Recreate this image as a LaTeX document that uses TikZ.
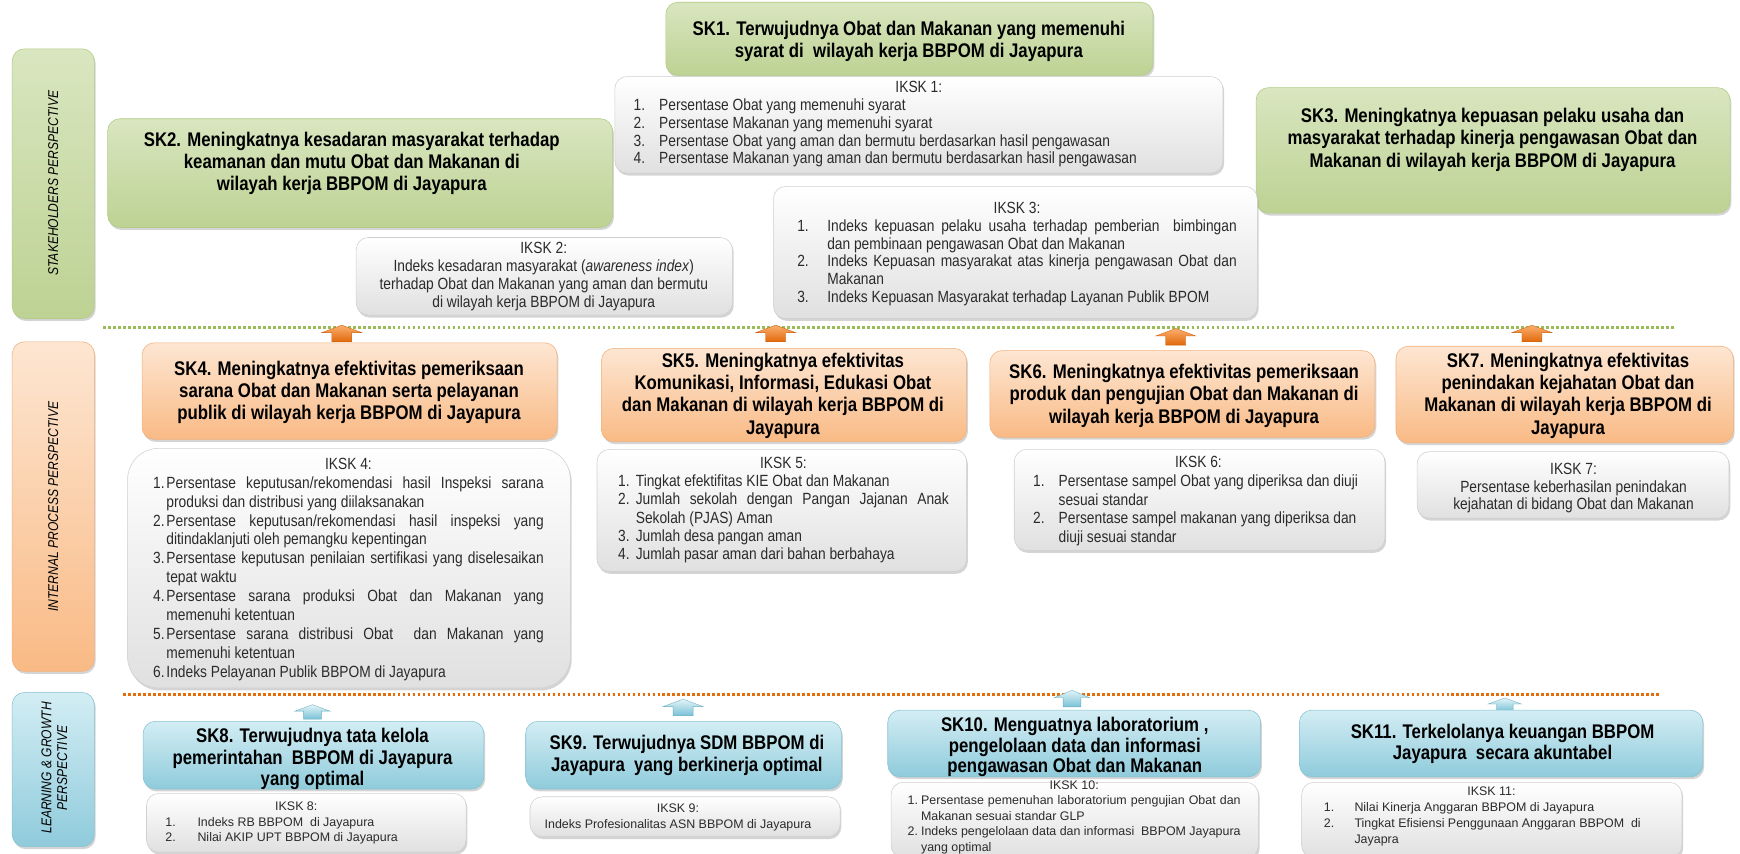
\documentclass[tikz,border=0pt]{standalone}
\usepackage{fontspec}
\setmainfont{Liberation Sans}
\newfontfamily\nar[FakeStretch=0.85]{Liberation Sans}
\usetikzlibrary{shadows}
\definecolor{grA}{HTML}{D9E6C0}
\definecolor{grB}{HTML}{BDD293}
\definecolor{grL}{HTML}{B3CB86}
\definecolor{orA}{HTML}{FDE6D2}
\definecolor{orB}{HTML}{F9BA85}
\definecolor{orL}{HTML}{F2B07C}
\definecolor{blA}{HTML}{D3EDF4}
\definecolor{blB}{HTML}{8FCBDB}
\definecolor{blL}{HTML}{86C2D3}
\definecolor{ikB}{HTML}{E0E0E0}
\definecolor{ikL}{HTML}{D0D0D0}
\definecolor{txt}{HTML}{2B2B2B}
\definecolor{dotG}{HTML}{9BBB59}
\definecolor{dotO}{HTML}{E46C0A}
\definecolor{arOa}{HTML}{FBAF6E}
\definecolor{arOb}{HTML}{E0680A}
\definecolor{arBa}{HTML}{E3F4F8}
\definecolor{arBb}{HTML}{78C1D6}
\newcommand\LI[4]{\makebox[#1][l]{\makebox[#2][l]{#3}#4}}
\newcommand\LJ[4]{\makebox[#1][l]{\makebox[#2][l]{#3}\makebox[\dimexpr#1-#2\relax][s]{#4}}}
\newcommand\UpArr[5]{\path[#5] ({#1-#3},{#2+0.45*#4}) -- (#1,#2) -- ({#1+#3},{#2+0.45*#4}) -- ({#1+0.5*#3},{#2+0.45*#4}) -- ({#1+0.5*#3},{#2+#4}) -- ({#1-0.5*#3},{#2+#4}) -- ({#1-0.5*#3},{#2+0.45*#4}) -- cycle;}
\tikzset{
  shad/.style={drop shadow={shadow xshift=1.2pt, shadow yshift=-2.2pt, opacity=0.3, fill=black!55}},
  bx/.style={rounded corners=11pt, inner sep=0pt, shad, line width=0.5pt},
  gbox/.style={bx, top color=grA, bottom color=grB, draw=grL},
  obox/.style={bx, top color=orA, bottom color=orB, draw=orL},
  bbox/.style={bx, top color=blA, bottom color=blB, draw=blL},
  ibox/.style={bx, top color=white, bottom color=ikB, draw=ikL},
  ttl/.style={font=\nar\fontsize{17.8}{#1}\selectfont\bfseries, align=center, inner sep=0pt, text=black},
  ttl/.default=20,
  body/.style={font=\nar\fontsize{14.6}{#1}\selectfont, align=center, inner sep=0pt, text=txt},
  body/.default=16,
  sml/.style={font=\fontsize{11.2}{#1}\selectfont, align=center, inner sep=0pt, text=txt},
  sml/.default=14.5,
  side/.style={font=\nar\fontsize{12.8}{14}\selectfont\itshape, rotate=90, align=center, inner sep=0pt, text=black},
  dotg/.style={draw=dotG, line width=2.4pt, dash pattern=on 2.4pt off 2.1pt},
  doto/.style={draw=dotO, line width=2.4pt, dash pattern=on 2.4pt off 2.1pt},
  arO/.style={top color=arOa, bottom color=arOb, draw=arOb!90!black, line width=0.3pt},
  arB/.style={top color=arBa, bottom color=arBb, draw=arBb!90!black, line width=0.3pt},
}
\begin{document}
\begin{tikzpicture}[x=1pt,y=-1pt]
\useasboundingbox (0,0) rectangle (1568,769);
\clip (0,0) rectangle (1568,769);
\fill[white] (0,0) rectangle (1568,769);

% ---------- perspective labels ----------
\node[gbox, minimum width=74pt, minimum height=243pt] (spbox) at (48,165.5) {};
\node[side] (sptxt) at (48,165) {STAKEHOLDERS PERSPECTIVE};
\node[obox, minimum width=74pt, minimum height=297pt] (ipbox) at (48,456.5) {};
\node[side] (iptxt) at (48,456.5) {INTERNAL PROCESS PERSPECTIVE};
\node[bbox, minimum width=74pt, minimum height=139pt] (lgbox) at (48,693.5) {};
\node[side] (lgtxt) at (49,692) {LEARNING \& GROWTH\\PERSPECTIVE};

% ---------- stakeholders row ----------
\node[gbox, minimum width=455pt, minimum height=98pt] (sk2) at (324.5,156) {};
\node[ttl] (sk2t) at (317,147.5) {SK2. Meningkatnya kesadaran masyarakat terhadap\\keamanan dan mutu Obat dan Makanan di\\wilayah kerja BBPOM di Jayapura};

\node[gbox, minimum width=439pt, minimum height=66pt] (sk1) at (819.5,35) {};
\node[ttl] (sk1t) at (819,37.5) {SK1. Terwujudnya Obat dan Makanan yang memenuhi\\syarat di\ \ wilayah kerja BBPOM di Jayapura};

\node[ibox, minimum width=548pt, minimum height=87pt] (ik1) at (828,112.5) {};
\node[body] (ik1t) at (828,112) {IKSK 1:\\
\LI{514pt}{23pt}{1.}{Persentase Obat yang memenuhi syarat}\\
\LI{514pt}{23pt}{2.}{Persentase Makanan yang memenuhi syarat}\\
\LI{514pt}{23pt}{3.}{Persentase Obat yang aman dan bermutu berdasarkan hasil pengawasan}\\
\LI{514pt}{23pt}{4.}{Persentase Makanan yang aman dan bermutu berdasarkan hasil pengawasan}};

\node[gbox, minimum width=427pt, minimum height=113pt] (sk3) at (1345.5,135.5) {};
\node[ttl] (sk3t) at (1345,126) {SK3. Meningkatnya kepuasan pelaku usaha dan\\masyarakat terhadap kinerja pengawasan Obat dan\\Makanan di wilayah kerja BBPOM di Jayapura};

\node[ibox, minimum width=339pt, minimum height=70pt] (ik2) at (490.5,249) {};
\node[body=16.3] (ik2t) at (490,249) {IKSK 2:\\Indeks kesadaran masyarakat (\textit{awareness index})\\terhadap Obat dan Makanan yang aman dan bermutu\\di wilayah kerja BBPOM di Jayapura};

\node[ibox, minimum width=436pt, minimum height=119pt] (ik3) at (915,227.5) {};
\node[body] (ik3t) at (916.5,229) {IKSK 3:\\
\LJ{396pt}{27pt}{1.}{Indeks kepuasan pelaku usaha terhadap pemberian \ bimbingan}\\
\LI{396pt}{27pt}{}{dan pembinaan pengawasan Obat dan Makanan}\\
\LJ{396pt}{27pt}{2.}{Indeks Kepuasan masyarakat atas kinerja pengawasan Obat dan}\\
\LI{396pt}{27pt}{}{Makanan}\\
\LI{396pt}{27pt}{3.}{Indeks Kepuasan Masyarakat terhadap Layanan Publik BPOM}};

\draw[dotg] (93,295) -- (1509,295);
\UpArr{308}{293}{18}{15}{arO}
\UpArr{699}{293}{18}{15}{arO}
\UpArr{1059.5}{296}{18}{15}{arO}
\UpArr{1380.5}{293}{18}{15}{arO}

% ---------- internal process row ----------
\node[obox, minimum width=374pt, minimum height=87pt] (sk4) at (315,352.5) {};
\node[ttl] (sk4t) at (314.5,353.6) {SK4. Meningkatnya efektivitas pemeriksaan\\sarana Obat dan Makanan serta pelayanan\\publik di wilayah kerja BBPOM di Jayapura};

\node[ibox, rounded corners=28pt, minimum width=399pt, minimum height=216pt] (ik4) at (314.5,512) {};
\node[body=17] (ik4t) at (314,513) {IKSK 4:\\
\LJ{352pt}{12pt}{1.}{Persentase keputusan/rekomendasi hasil Inspeksi sarana}\\
\LI{352pt}{12pt}{}{produksi dan distribusi yang diilaksanakan}\\
\LJ{352pt}{12pt}{2.}{Persentase keputusan/rekomendasi hasil inspeksi yang}\\
\LI{352pt}{12pt}{}{ditindaklanjuti oleh pemangku kepentingan}\\
\LJ{352pt}{12pt}{3.}{Persentase keputusan penilaian sertifikasi yang diselesaikan}\\
\LI{352pt}{12pt}{}{tepat waktu}\\
\LJ{352pt}{12pt}{4.}{Persentase sarana produksi Obat dan Makanan yang}\\
\LI{352pt}{12pt}{}{memenuhi ketentuan}\\
\LJ{352pt}{12pt}{5.}{Persentase sarana distribusi Obat \ dan Makanan yang}\\
\LI{352pt}{12pt}{}{memenuhi ketentuan}\\
\LI{352pt}{12pt}{6.}{Indeks Pelayanan Publik BBPOM di Jayapura}};

\node[obox, minimum width=329pt, minimum height=84pt] (sk5) at (706.5,356) {};
\node[ttl] (sk5t) at (705.5,356.6) {SK5. Meningkatnya efektivitas\\Komunikasi, Informasi, Edukasi Obat\\dan Makanan di wilayah kerja BBPOM di\\Jayapura};

\node[ibox, minimum width=333pt, minimum height=110pt] (ik5) at (704.5,460) {};
\node[body=16.5] (ik5t) at (706,459.5) {IKSK 5:\\
\LI{298pt}{16pt}{1.}{Tingkat efektifitas KIE Obat dan Makanan}\\
\LJ{298pt}{16pt}{2.}{Jumlah sekolah dengan Pangan Jajanan Anak}\\
\LI{298pt}{16pt}{}{Sekolah (PJAS) Aman}\\
\LI{298pt}{16pt}{3.}{Jumlah desa pangan aman}\\
\LI{298pt}{16pt}{4.}{Jumlah pasar aman dari bahan berbahaya}};

\node[obox, minimum width=347pt, minimum height=78pt] (sk6) at (1065.5,355) {};
\node[ttl] (sk6t) at (1067,356.7) {SK6. Meningkatnya efektivitas pemeriksaan\\produk dan pengujian Obat dan Makanan di\\wilayah kerja BBPOM di Jayapura};

\node[ibox, minimum width=334pt, minimum height=91pt] (ik6) at (1081,450.5) {};
\node[body=17] (ik6t) at (1080,451.5) {IKSK 6:\\
\LI{298pt}{23pt}{1.}{Persentase sampel Obat yang diperiksa dan diuji}\\
\LI{298pt}{23pt}{}{sesuai standar}\\
\LI{298pt}{23pt}{2.}{Persentase sampel makanan yang diperiksa dan}\\
\LI{298pt}{23pt}{}{diuji sesuai standar}};

\node[obox, minimum width=304pt, minimum height=87pt] (sk7) at (1410,355.5) {};
\node[ttl] (sk7t) at (1413,356.5) {SK7. Meningkatnya efektivitas\\penindakan kejahatan Obat dan\\Makanan di wilayah kerja BBPOM di\\Jayapura};

\node[ibox, minimum width=281pt, minimum height=60pt] (ik7) at (1417.5,437) {};
\node[body] (ik7t) at (1418,439.8) {IKSK 7:\\Persentase keberhasilan penindakan\\kejahatan di bidang Obat dan Makanan};

\draw[doto] (111,626) -- (1495,626);
\UpArr{281.6}{635}{16}{13}{arB}
\UpArr{615.6}{630}{18}{15}{arB}
\UpArr{966}{622}{16}{15}{arB}
\UpArr{1356}{629}{15}{12}{arB}

% ---------- learning & growth row ----------
\node[bbox, minimum width=307pt, minimum height=61pt] (sk8) at (282.5,680.5) {};
\node[ttl=19.5] (sk8t) at (281.6,684) {SK8. Terwujudnya tata kelola\\pemerintahan\ \ BBPOM di Jayapura\\yang optimal};

\node[ibox, minimum width=288pt, minimum height=53pt] (ik8) at (276,741.5) {};
\node[sml=14] (ik8t) at (267,742) {IKSK 8:\\
\LI{236pt}{29pt}{1.}{Indeks RB BBPOM\ \ di Jayapura}\\
\LI{236pt}{29pt}{2.}{Nilai AKIP UPT BBPOM di Jayapura}};

\node[bbox, minimum width=284.5pt, minimum height=61pt] (sk9) at (616,680.5) {};
\node[ttl] (sk9t) at (619,680.5) {SK9. Terwujudnya SDM BBPOM di\\Jayapura\ \ yang berkinerja optimal};

\node[ibox, minimum width=279.4pt, minimum height=36pt] (ik9) at (617.3,736) {};
\node[sml=15] (ik9t) at (611,736.5) {IKSK 9:\\Indeks Profesionalitas ASN BBPOM di Jayapura};

\node[bbox, minimum width=336pt, minimum height=60pt] (sk10) at (968,670) {};
\node[ttl=18.5] (sk10t) at (968.5,673.5) {SK10. Menguatnya laboratorium ,\\pengelolaan data dan informasi\\pengawasan Obat dan Makanan};

\node[ibox, minimum width=331pt, minimum height=68pt] (ik10) at (968.5,739) {};
\node[sml=14] (ik10t) at (968,736.5) {IKSK 10:\\
\LJ{300pt}{12pt}{1.}{Persentase pemenuhan laboratorium pengujian Obat dan}\\
\LI{300pt}{12pt}{}{Makanan sesuai standar GLP}\\
\LJ{300pt}{12pt}{2.}{Indeks pengelolaan data dan informasi \ BBPOM Jayapura}\\
\LI{300pt}{12pt}{}{yang optimal}};

\node[bbox, minimum width=363.5pt, minimum height=60pt] (sk11) at (1352.75,670) {};
\node[ttl=19] (sk11t) at (1354,670.5) {SK11. Terkelolanya keuangan BBPOM\\Jayapura\ \ secara akuntabel};

\node[ibox, minimum width=342.6pt, minimum height=68pt] (ik11) at (1344.3,739) {};
\node[sml=14.5] (ik11t) at (1344,736) {IKSK 11:\\
\LI{302pt}{27.6pt}{1.}{Nilai Kinerja Anggaran BBPOM di Jayapura}\\
\LI{302pt}{27.6pt}{2.}{Tingkat Efisiensi Penggunaan Anggaran BBPOM\ \ di}\\
\LI{302pt}{27.6pt}{}{Jayapra}};
\end{tikzpicture}
\end{document}
